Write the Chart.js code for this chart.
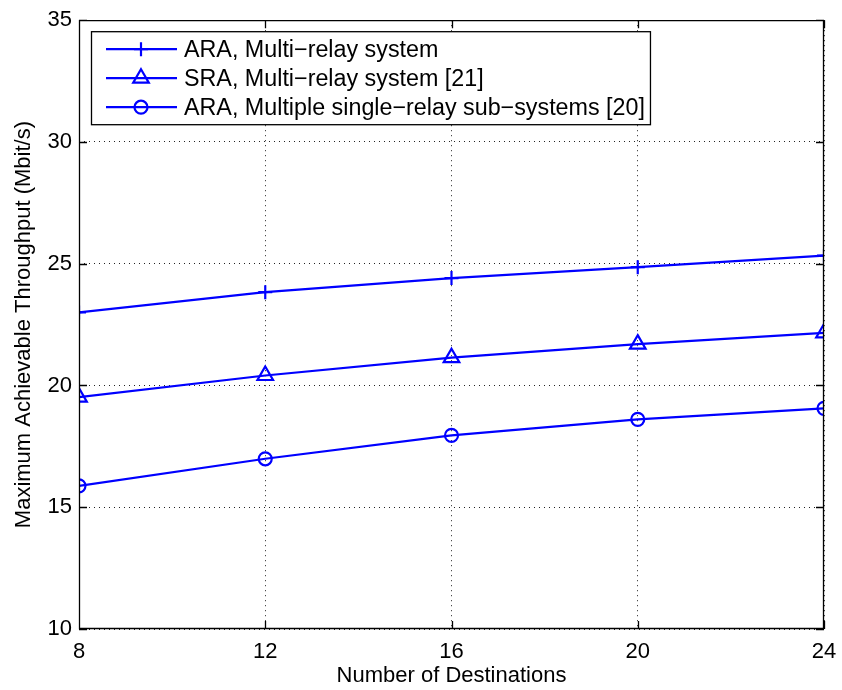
<!DOCTYPE html>
<html>
<head>
<meta charset="utf-8">
<script src="https://cdn.jsdelivr.net/npm/chart.js@4.4.1/dist/chart.umd.min.js"></script>
<style>
  html, body { margin: 0; padding: 0; background: #fff; }
  #wrap { width: 842px; height: 690px; }
</style>
</head>
<body>
<div id="wrap"><canvas id="chart" width="842" height="690"></canvas></div>
<script>
/* DATA */
const destinations = [8, 12, 16, 20, 24];
const araMulti = [23.0, 23.83, 24.41, 24.86, 25.33];
const sraMulti = [19.52, 20.41, 21.14, 21.70, 22.16];
const araSingle = [15.88, 16.99, 17.95, 18.61, 19.06];
const seriesLabels = [
  'ARA, Multi\u2212relay system',
  'SRA, Multi\u2212relay system [21]',
  'ARA, Multiple single\u2212relay sub\u2212systems [20]',
];
const xTicks = [8, 12, 16, 20, 24];
const yTicks = [10, 15, 20, 25, 30, 35];

const blue = '#0000ff';
const fontFamily = '"Liberation Sans", Arial, Helvetica, sans-serif';

function toPoints(values) {
  return destinations.map((d, i) => ({ x: d, y: values[i] }));
}

function series(label, values, style, radius) {
  return {
    label,
    data: toPoints(values),
    borderColor: blue,
    borderWidth: 2.2,
    pointStyle: style,
    pointRadius: radius,
    pointHoverRadius: radius,
    pointBorderColor: blue,
    pointBorderWidth: 2.2,
    pointBackgroundColor: 'rgba(0,0,0,0)',
    tension: 0,
  };
}

/* PLUGIN: box, inward ticks */
const frame = {
  id: 'frame',
  afterDatasetsDraw(chart) {
    const { ctx, chartArea: a, scales } = chart;
    ctx.save();
    ctx.strokeStyle = '#000';
    ctx.lineWidth = 1.3;
    ctx.beginPath();
    ctx.rect(a.left + 0.5, a.top + 0.5, a.right - a.left - 1, a.bottom - a.top - 1);
    const t = 8;
    xTicks.forEach((v) => {
      const x = Math.round(scales.x.getPixelForValue(v)) + 0.5;
      ctx.moveTo(x, a.bottom); ctx.lineTo(x, a.bottom - t);
      ctx.moveTo(x, a.top); ctx.lineTo(x, a.top + t);
    });
    yTicks.forEach((v) => {
      const y = Math.round(scales.y.getPixelForValue(v)) + 0.5;
      ctx.moveTo(a.left, y); ctx.lineTo(a.left + t, y);
      ctx.moveTo(a.right, y); ctx.lineTo(a.right - t, y);
    });
    ctx.stroke();
    ctx.restore();
  },
};

/* PLUGIN: legend box inside the axes */
const boxLegend = {
  id: 'boxLegend',
  afterDraw(chart) {
    const { ctx, chartArea: a } = chart;
    const left = a.left + 12;
    const top = a.top + 11;
    const rowH = 29;
    const sets = chart.data.datasets;
    ctx.save();
    ctx.font = '23.3px ' + fontFamily;
    const textW = Math.max(...sets.map((d) => ctx.measureText(d.label).width));
    const width = 93 + textW + 5;
    const height = rowH * sets.length + 6;
    ctx.fillStyle = '#fff';
    ctx.fillRect(left, top, width, height);
    ctx.strokeStyle = '#000';
    ctx.lineWidth = 1.3;
    ctx.strokeRect(left + 0.5, top + 0.5, width, height);
    sets.forEach((d, i) => {
      const y = top + 18 + i * rowH;
      ctx.strokeStyle = blue;
      ctx.lineWidth = 2.2;
      ctx.beginPath();
      ctx.moveTo(left + 15, y);
      ctx.lineTo(left + 86, y);
      ctx.stroke();
      ctx.fillStyle = 'rgba(0,0,0,0)';
      Chart.helpers.drawPoint(ctx, {
        pointStyle: d.pointStyle,
        radius: d.pointRadius,
        rotation: 0,
        borderWidth: 2.2,
      }, left + 50, y);
      ctx.fillStyle = '#000';
      ctx.textBaseline = 'middle';
      ctx.textAlign = 'left';
      ctx.fillText(d.label, left + 93, y + 1);
    });
    ctx.restore();
  },
};

new Chart(document.getElementById('chart'), {
  type: 'line',
  data: {
    datasets: [
      series(seriesLabels[0], araMulti, 'cross', 7),
      series(seriesLabels[1], sraMulti, 'triangle', 9),
      series(seriesLabels[2], araSingle, 'circle', 6.5),
    ],
  },
  options: {
    responsive: false,
    animation: false,
    layout: { padding: { top: 19, right: 18, left: 0, bottom: 0 } },
    plugins: {
      legend: { display: false },
      tooltip: { enabled: false },
    },
    scales: {
      x: {
        type: 'linear',
        min: 8,
        max: 24,
        afterBuildTicks: (s) => { s.ticks = xTicks.map((v) => ({ value: v })); },
        afterFit: (s) => {
          s.height = 61;
          s.paddingLeft = 0;
          s.paddingRight = 0;
        },
        border: { display: false, dash: [1, 4] },
        grid: { color: '#222', lineWidth: 1, drawTicks: false },
        ticks: { color: '#000', padding: 10, maxRotation: 0, font: { family: fontFamily, size: 22 } },
        title: {
          display: true,
          text: 'Number of Destinations',
          color: '#000',
          padding: { top: 0, bottom: 1 },
          font: { family: fontFamily, size: 22 },
        },
      },
      y: {
        min: 10,
        max: 35,
        afterBuildTicks: (s) => { s.ticks = yTicks.map((v) => ({ value: v })); },
        afterFit: (s) => { s.width = 79; },
        border: { display: false, dash: [1, 4] },
        grid: { color: '#222', lineWidth: 1, drawTicks: false },
        ticks: { color: '#000', padding: 7, font: { family: fontFamily, size: 22 } },
        title: {
          display: true,
          text: 'Maximum Achievable Throughput (Mbit/s)',
          color: '#000',
          padding: { top: 11, bottom: 2 },
          font: { family: fontFamily, size: 22 },
        },
      },
    },
  },
  plugins: [frame, boxLegend],
});
</script>
</body>
</html>
